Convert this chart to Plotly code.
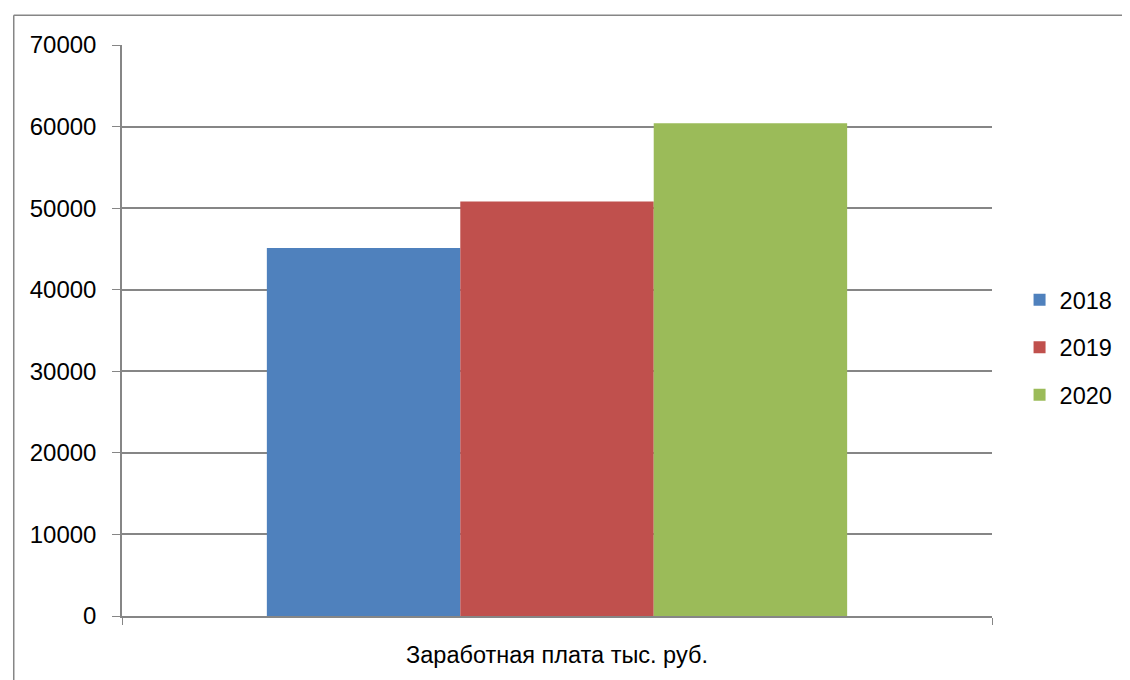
import plotly.graph_objects as go

categories = ["Заработная плата тыс. руб."]
series_names = ["2018", "2019", "2020"]
values_2018 = [45100]
values_2019 = [50800]
values_2020 = [60400]
colors = ["#4F81BD", "#C0504D", "#9BBB59"]
y_ticks = [0, 10000, 20000, 30000, 40000, 50000, 60000, 70000]

FONT = "Liberation Sans"
OFF = 8  # page body margin
W, H = 1130 - OFF, 680 - OFF
L, R, T, B = 114, 124, 37, 59
pw, ph = W - L - R, H - T - B

fig = go.Figure()
for name, vals, col in zip(series_names, [values_2018, values_2019, values_2020], colors):
    fig.add_trace(go.Bar(x=categories, y=vals, name=name, marker=dict(color=col, line=dict(width=0)),
                         legendgroup=name))

def px_x(x):
    return (x - L) / pw

def px_y(y):
    return (H - B - y) / ph

fig.update_layout(
    width=W, height=H,
    margin=dict(l=L, r=R, t=T, b=B),
    paper_bgcolor="white", plot_bgcolor="white",
    barmode="group", bargap=0.333, bargroupgap=0,
    font=dict(family=FONT, size=22, color="#000000"),
    legend=dict(x=px_x(1026), xanchor="left", y=px_y(272), yanchor="top",
                traceorder="grouped", tracegroupgap=14,
                font=dict(family=FONT, size=23.5), itemwidth=30),
    showlegend=True,
    xaxis=dict(showgrid=False, showline=True, linecolor="#868686", linewidth=1.5,
               ticks="outside", tickson="boundaries", ticklen=7, tickcolor="#868686",
               ticklabelstandoff=17,
               tickfont=dict(family=FONT, size=23.5), fixedrange=True),
    yaxis=dict(range=[0, 70000], tickvals=y_ticks, ticktext=[str(v) for v in y_ticks],
               showgrid=True, gridcolor="#868686", gridwidth=1.5,
               showline=True, linecolor="#868686", linewidth=1.5,
               ticks="outside", ticklen=8, tickcolor="#868686",
               ticklabelstandoff=11, tickfont=dict(family=FONT, size=24),
               zeroline=False, fixedrange=True),
    shapes=[
        dict(type="line", xref="paper", yref="paper", x0=px_x(4), x1=px_x(W + 30),
             y0=px_y(7), y1=px_y(7), line=dict(color="#868686", width=1.5)),
        dict(type="line", xref="paper", yref="paper", x0=px_x(4), x1=px_x(4),
             y0=px_y(7), y1=px_y(H + 30), line=dict(color="#868686", width=1.5)),
    ],
)

fig.write_html("out.html")
